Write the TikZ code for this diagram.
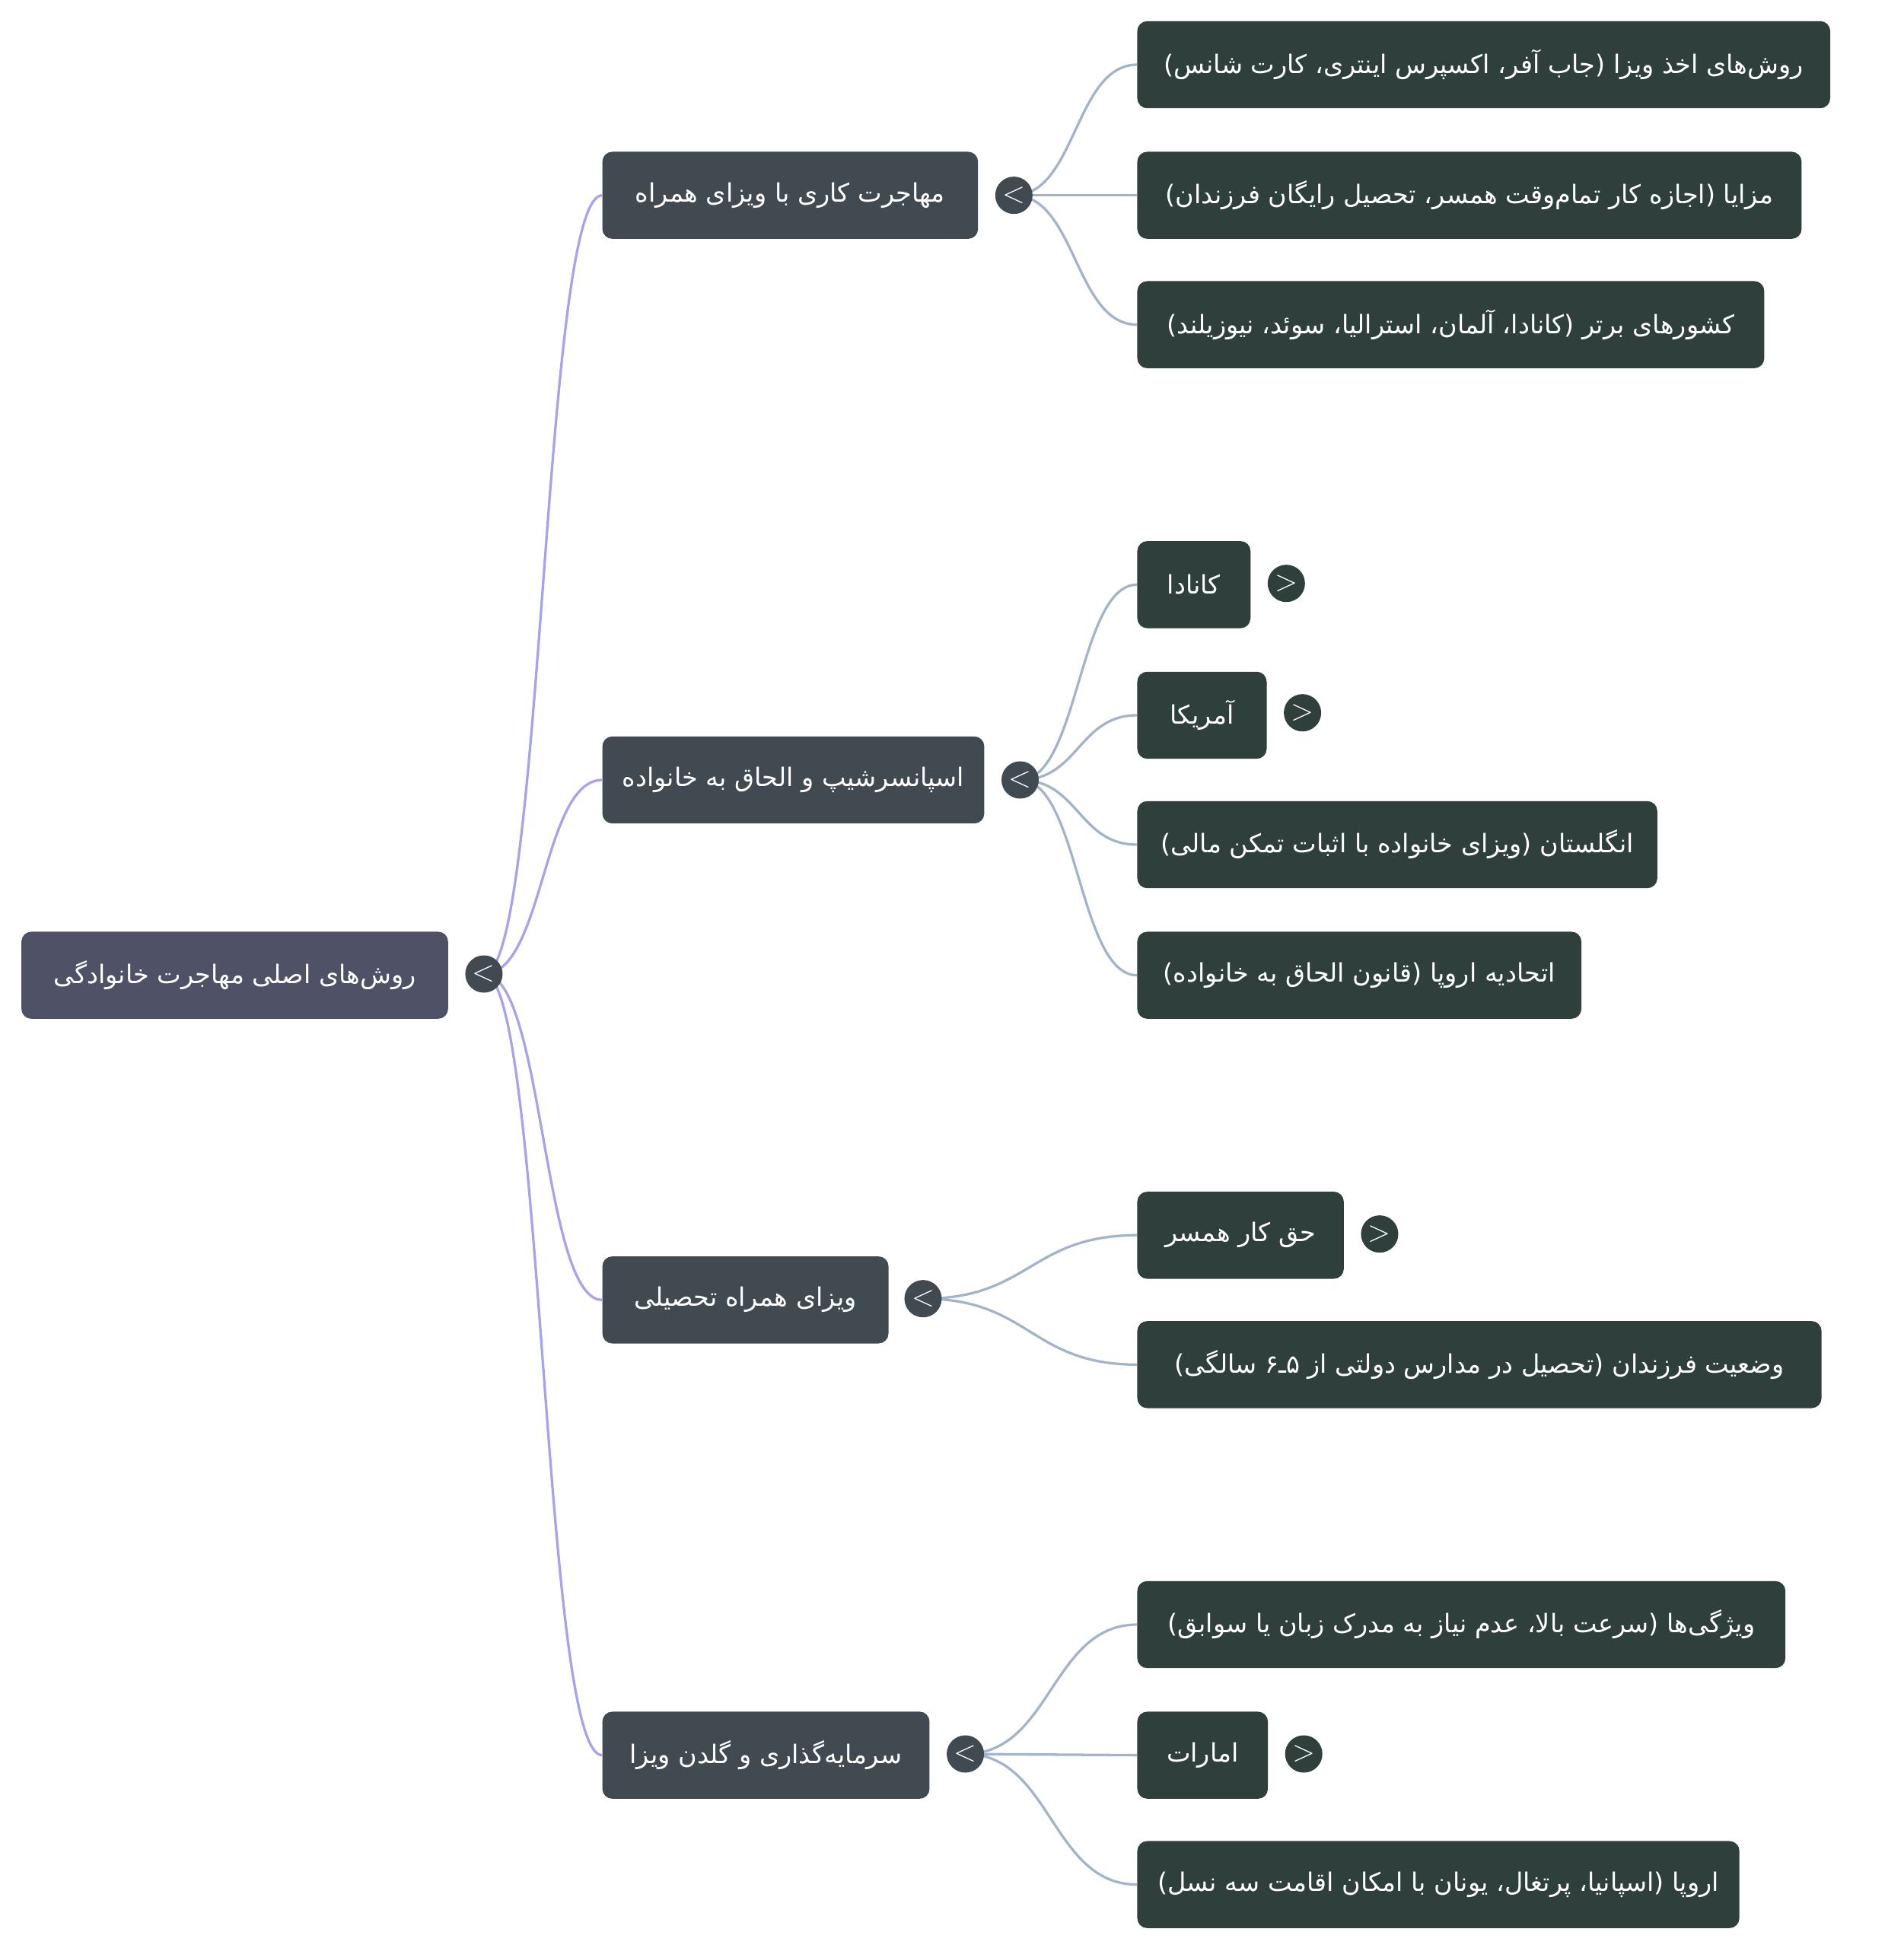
\documentclass[tikz,border=0pt]{standalone}
\usepackage{fontspec}
\usepackage{tikz}
\TeXXeTstate=1
\newfontfamily\persian[Script=Arabic]{DejaVu Sans}
\newcommand{\fatext}[1]{\beginR #1\endR}
\definecolor{rootfill}{HTML}{4F5167}
\definecolor{mainfill}{HTML}{424A51}
\definecolor{leaffill}{HTML}{2F3F3B}
\definecolor{rootline}{HTML}{A6A2EE}
\definecolor{leafline}{HTML}{A4B3CC}

\begin{document}
\begin{tikzpicture}[x=1pt,y=-1pt,
	box/.style={anchor=west,rounded corners=8pt,minimum height=70pt,inner xsep=10pt,text=white,font=\persian\fontsize{20.5}{25}\selectfont},
	rootbox/.style={box,fill=rootfill,minimum width=#1},
	mainbox/.style={box,fill=mainfill,minimum width=#1},
	leafbox/.style={box,fill=leaffill,minimum width=#1},
	toggle/.style={circle,minimum size=30pt,inner sep=0pt,text=white,font=\fontsize{24}{24}\selectfont},
	rootlink/.style={draw=rootline,line width=2pt},
	leaflink/.style={draw=leafline,line width=2pt}]
	\useasboundingbox (0,0) rectangle (1530,1566);
	% root
	\node[rootbox=343pt] (root) at (17,784) {\fatext{روش‌های اصلی مهاجرت خانوادگی}};
	% first level
	\node[mainbox=302pt] (n1) at (484,157) {\fatext{مهاجرت کاری با ویزای همراه}};
	\node[mainbox=307pt] (n2) at (484,627) {\fatext{اسپانسرشیپ و الحاق به خانواده}};
	\node[mainbox=230pt] (n3) at (484,1045) {\fatext{ویزای همراه تحصیلی}};
	\node[mainbox=263pt] (n4) at (484,1411) {\fatext{سرمایه‌گذاری و گلدن ویزا}};
	% second level
	\node[leafbox=557pt] (n1a) at (914,52) {\fatext{روش‌های اخذ ویزا (جاب آفر، اکسپرس اینتری، کارت شانس)}};
	\node[leafbox=534pt] (n1b) at (914,157) {\fatext{مزایا (اجازه کار تمام‌وقت همسر، تحصیل رایگان فرزندان)}};
	\node[leafbox=504pt] (n1c) at (914,261) {\fatext{کشورهای برتر (کانادا، آلمان، استرالیا، سوئد، نیوزیلند)}};
	\node[leafbox=91pt] (n2a) at (914,470) {\fatext{کانادا}};
	\node[leafbox=104pt] (n2b) at (914,575) {\fatext{آمریکا}};
	\node[leafbox=418pt] (n2c) at (914,679) {\fatext{انگلستان (ویزای خانواده با اثبات تمکن مالی)}};
	\node[leafbox=357pt] (n2d) at (914,784) {\fatext{اتحادیه اروپا (قانون الحاق به خانواده)}};
	\node[leafbox=166pt] (n3a) at (914,993) {\fatext{حق کار همسر}};
	\node[leafbox=550pt] (n3b) at (914,1097) {\fatext{وضعیت فرزندان (تحصیل در مدارس دولتی از ۵ـ۶ سالگی)}};
	\node[leafbox=521pt] (n4a) at (914,1306) {\fatext{ویژگی‌ها (سرعت بالا، عدم نیاز به مدرک زبان یا سوابق)}};
	\node[leafbox=105pt] (n4b) at (914,1411) {\fatext{امارات}};
	\node[leafbox=484pt] (n4c) at (914,1515) {\fatext{اروپا (اسپانیا، پرتغال، یونان با امکان اقامت سه نسل)}};
	% toggle points
	\coordinate (tRoot) at (389,783);
	\coordinate (t1) at (815,157);
	\coordinate (t2) at (820,627);
	\coordinate (t3) at (742,1044);
	\coordinate (t4) at (776,1410);
	% connectors
	\foreach \k in {n1,n2,n3,n4}
		\path[rootlink] (tRoot) .. controls +(48,0) and +(-48,0) .. (\k.west);
	\foreach \k in {n1a,n1b,n1c}
		\path[leaflink] (t1) .. controls +(50,0) and +(-50,0) .. (\k.west);
	\foreach \k in {n2a,n2b,n2c,n2d}
		\path[leaflink] (t2) .. controls +(47,0) and +(-47,0) .. (\k.west);
	\foreach \k in {n3a,n3b}
		\path[leaflink] (t3) .. controls +(86,0) and +(-86,0) .. (\k.west);
	\foreach \k in {n4a,n4b,n4c}
		\path[leaflink] (t4) .. controls +(69,0) and +(-69,0) .. (\k.west);
	% toggles
	\node[toggle,fill=mainfill] (cRoot) at (tRoot) {<};
	\node[toggle,fill=mainfill] (c1) at (t1) {<};
	\node[toggle,fill=mainfill] (c2) at (t2) {<};
	\node[toggle,fill=mainfill] (c3) at (t3) {<};
	\node[toggle,fill=mainfill] (c4) at (t4) {<};
	\node[toggle,fill=leaffill] (c2a) at (1034,469) {>};
	\node[toggle,fill=leaffill] (c2b) at (1047,573) {>};
	\node[toggle,fill=leaffill] (c3a) at (1109,992) {>};
	\node[toggle,fill=leaffill] (c4b) at (1048,1410) {>};
\end{tikzpicture}
\end{document}
